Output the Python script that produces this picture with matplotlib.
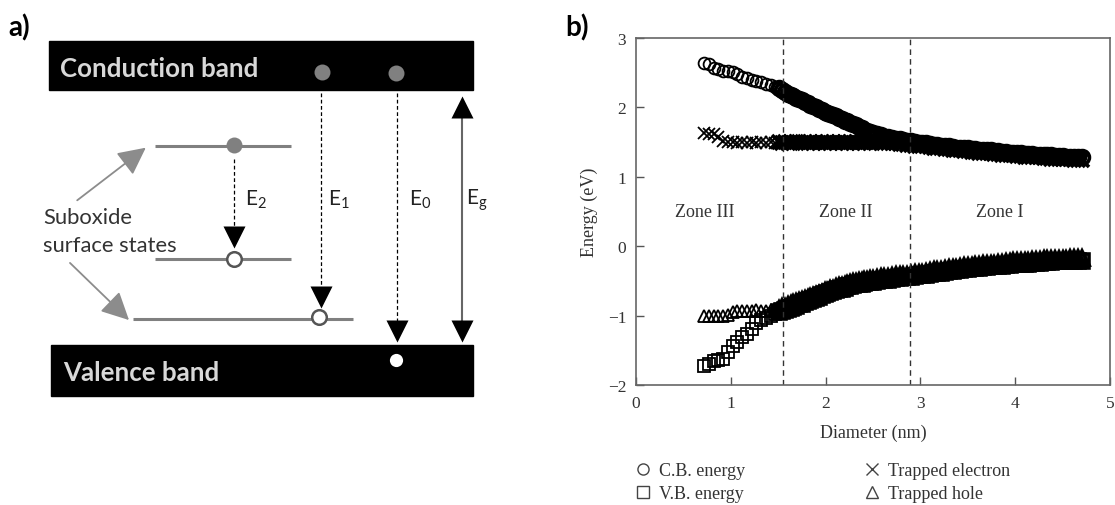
import matplotlib
matplotlib.use('Agg')
import matplotlib.pyplot as plt
from matplotlib.patches import Rectangle, FancyArrowPatch
from matplotlib.lines import Line2D

plt.rcParams['mathtext.fontset'] = 'custom'
plt.rcParams['mathtext.rm'] = 'Lato'
plt.rcParams['mathtext.default'] = 'regular'

# b) band energies vs. nanocrystal diameter
diameter = [
    0.72, 0.77, 0.82, 0.87, 0.92, 0.97, 1.02, 1.07, 1.12, 1.17, 1.22, 1.27, 1.32, 1.37, 1.42, 1.47,
    1.51, 1.54, 1.57, 1.60, 1.63, 1.66, 1.69, 1.72, 1.75, 1.78, 1.81, 1.84, 1.87, 1.90, 1.93, 1.96, 1.99,
    2.02, 2.05, 2.08, 2.11, 2.14, 2.17, 2.20, 2.23, 2.26, 2.29, 2.32, 2.35, 2.38, 2.41, 2.44, 2.47, 2.50,
    2.54, 2.58, 2.62, 2.66, 2.70, 2.74, 2.78, 2.82, 2.86, 2.90, 2.94, 2.98,
    3.02, 3.06, 3.10, 3.14, 3.18, 3.22, 3.26, 3.30, 3.34, 3.38, 3.42, 3.46, 3.50, 3.54, 3.58, 3.62, 3.66,
    3.70, 3.74, 3.78, 3.82, 3.86, 3.90, 3.94, 3.98,
    4.02, 4.06, 4.10, 4.14, 4.18, 4.22, 4.26, 4.30, 4.34, 4.38, 4.42, 4.46, 4.50, 4.54, 4.58, 4.62, 4.66, 4.70]
cb_energy = [
    2.64, 2.62, 2.57, 2.55, 2.52, 2.53, 2.51, 2.48, 2.44, 2.43, 2.40, 2.38, 2.36, 2.34, 2.32, 2.30,
    2.28, 2.25, 2.22, 2.20, 2.18, 2.16, 2.14, 2.12, 2.10, 2.08, 2.06, 2.04, 2.02, 2.00, 1.98, 1.96, 1.94,
    1.92, 1.91, 1.89, 1.87, 1.85, 1.83, 1.81, 1.80, 1.78, 1.76, 1.74, 1.72, 1.70, 1.68, 1.66, 1.65, 1.63,
    1.61, 1.60, 1.58, 1.57, 1.56, 1.55, 1.54, 1.53, 1.52, 1.51, 1.50, 1.49,
    1.48, 1.48, 1.47, 1.46, 1.46, 1.45, 1.44, 1.44, 1.43, 1.42, 1.42, 1.41, 1.41, 1.40, 1.40, 1.39, 1.39,
    1.38, 1.38, 1.37, 1.37, 1.36, 1.36, 1.35, 1.35,
    1.34, 1.34, 1.33, 1.33, 1.33, 1.32, 1.32, 1.31, 1.31, 1.31, 1.30, 1.30, 1.30, 1.29, 1.29, 1.29, 1.28, 1.28]
trapped_electron = [
    1.63, 1.62, 1.61, 1.57, 1.52, 1.50, 1.50, 1.49, 1.50, 1.49, 1.50, 1.49, 1.50, 1.49, 1.50, 1.49,
    1.50, 1.49, 1.50, 1.49, 1.50, 1.49, 1.50, 1.50, 1.49, 1.50, 1.49, 1.50, 1.49, 1.50, 1.49, 1.50, 1.49,
    1.50, 1.49, 1.50, 1.49, 1.50, 1.49, 1.50, 1.49, 1.50, 1.49, 1.50, 1.49, 1.50, 1.49, 1.50, 1.49, 1.50,
    1.50, 1.49, 1.49, 1.49, 1.48, 1.48, 1.47, 1.47, 1.46, 1.46, 1.45, 1.45,
    1.44, 1.44, 1.43, 1.42, 1.42, 1.41, 1.40, 1.40, 1.39, 1.38, 1.38, 1.37, 1.37, 1.36, 1.36, 1.35, 1.35,
    1.34, 1.34, 1.33, 1.33, 1.32, 1.32, 1.31, 1.31,
    1.30, 1.30, 1.29, 1.29, 1.28, 1.28, 1.28, 1.27, 1.27, 1.26, 1.26, 1.26, 1.25, 1.25, 1.25, 1.24, 1.24, 1.24]
vb_energy = [
    -1.73, -1.70, -1.66, -1.64, -1.62, -1.52, -1.44, -1.38, -1.31, -1.26, -1.19, -1.10, -1.06, -1.03, -1.00, -0.97,
    -0.95, -0.93, -0.92, -0.90, -0.89, -0.87, -0.86, -0.84, -0.83, -0.81, -0.79, -0.78, -0.76, -0.74, -0.73, -0.71, -0.69,
    -0.68, -0.66, -0.65, -0.63, -0.62, -0.61, -0.60, -0.58, -0.57, -0.56, -0.55, -0.54, -0.54, -0.53, -0.52, -0.51, -0.51,
    -0.50, -0.49, -0.48, -0.48, -0.47, -0.46, -0.46, -0.45, -0.45, -0.44, -0.43, -0.42,
    -0.42, -0.41, -0.40, -0.39, -0.39, -0.38, -0.37, -0.36, -0.36, -0.35, -0.34, -0.33, -0.33, -0.32, -0.31, -0.31, -0.30,
    -0.30, -0.29, -0.29, -0.28, -0.28, -0.27, -0.27, -0.26,
    -0.26, -0.25, -0.25, -0.25, -0.24, -0.24, -0.24, -0.23, -0.23, -0.23, -0.22, -0.22, -0.22, -0.22, -0.21, -0.21, -0.21, -0.21]
trapped_hole = [
    -1.01, -1.01, -1.01, -1.01, -1.01, -0.99, -0.95, -0.93, -0.93, -0.94, -0.93, -0.92, -0.94, -0.93, -0.92, -0.91,
    -0.90, -0.88, -0.87, -0.85, -0.84, -0.82, -0.81, -0.79, -0.78, -0.76, -0.75, -0.73, -0.72, -0.70, -0.69, -0.67, -0.65,
    -0.64, -0.62, -0.61, -0.59, -0.58, -0.57, -0.56, -0.54, -0.53, -0.52, -0.51, -0.50, -0.50, -0.49, -0.48, -0.47, -0.47,
    -0.46, -0.45, -0.44, -0.44, -0.43, -0.42, -0.42, -0.41, -0.41, -0.40, -0.39, -0.38,
    -0.38, -0.37, -0.36, -0.35, -0.35, -0.34, -0.33, -0.32, -0.32, -0.31, -0.30, -0.29, -0.29, -0.28, -0.27, -0.27, -0.26,
    -0.26, -0.25, -0.25, -0.24, -0.24, -0.23, -0.23, -0.22,
    -0.22, -0.21, -0.21, -0.21, -0.20, -0.20, -0.20, -0.19, -0.19, -0.19, -0.18, -0.18, -0.18, -0.18, -0.17, -0.17, -0.17, -0.17]
zone_edges = [1.548, 2.887]
zone_names = ['Zone III', 'Zone II', 'Zone I']
zone_centres = [0.73, 2.21, 3.84]

# a) band diagram, laid out in pixels of the left half
cb_box = (49, 42, 424, 49)      # x, y, width, height
vb_box = (51, 346, 422, 51)
levels = [(155, 291, 147), (155, 291, 260), (133, 353, 320)]   # x0, x1, y
cb_electrons = [(322, 73), (396, 74)]
transitions = [  # x, start y, tip y, label, label x
    (234, 160, 248, r'E$_2$', 245),
    (321, 94, 308, r'E$_1$', 328),
    (397, 94, 342, r'E$_0$', 409),
]
gap_arrow = (462, 97, 342)

sans = 'Lato'
serif = 'Liberation Serif'
grey = '#808080'

fig = plt.figure(figsize=(11.15, 5.06), dpi=100)

ax_a = fig.add_axes([0, 0, 0.5, 1])
ax_a.set_xlim(0, 557.5)
ax_a.set_ylim(506, 0)
ax_a.axis('off')

for (x, y, w, h) in [cb_box, vb_box]:
    ax_a.add_patch(Rectangle((x, y), w, h, color='black', zorder=1))
ax_a.text(60, 69, 'Conduction band', family=sans, weight='bold', fontsize=18.6,
          color='#d8d8d8', va='center')
ax_a.text(63, 373, 'Valence band', family=sans, weight='bold', fontsize=18.6,
          color='#d8d8d8', va='center')

for x0, x1, y in levels:
    ax_a.plot([x0, x1], [y, y], color=grey, lw=2.2, solid_capstyle='butt', zorder=2)

ex, ey = zip(*cb_electrons)
ax_a.plot(ex, ey, 'o', ms=11.5, color=grey, mec='none', zorder=3)
ax_a.plot(234, 146, 'o', ms=11.5, color=grey, mec='none', zorder=3)
ax_a.plot([234, 319], [260, 318], 'o', ms=10.5, mfc='white', mec='#555555', mew=1.8, zorder=4)
ax_a.plot(396, 361, 'o', ms=9.5, color='white', mec='none', zorder=3)

for x, y0, y1, label, lx in transitions:
    ax_a.plot([x, x], [y0, y1 - 10], color='black', lw=0.9, ls=(0, (3, 2)), zorder=2)
    ax_a.plot(x, y1 - 10.5, 'v', ms=15.5, color='black', mec='none', zorder=5)
    ax_a.text(lx, 200, label, family=sans, fontsize=15, color='#222222', va='center')

gx, gy0, gy1 = gap_arrow
ax_a.plot([gx, gx], [gy0 + 10, gy1 - 10], color='#666666', lw=1.5, zorder=2)
ax_a.plot(gx, gy0 + 10.5, '^', ms=15.5, color='black', mec='none', zorder=5)
ax_a.plot(gx, gy1 - 10.5, 'v', ms=15.5, color='black', mec='none', zorder=5)
ax_a.text(466, 200, r'E$_g$', family=sans, fontsize=15, color='#222222', va='center')

ax_a.text(43, 218, 'Suboxide', family=sans, fontsize=15.8, color='#333333', va='center')
ax_a.text(43, 246, 'surface states', family=sans, fontsize=15.8, color='#333333', va='center')
for start, end in [((75, 203), (148, 147)), ((68, 262), (131, 323))]:
    ax_a.add_patch(FancyArrowPatch(start, end, arrowstyle='-|>,head_length=1.0,head_width=0.5',
                                   mutation_scale=17, color='#8c8c8c', lw=1.3, zorder=2))

fig.text(8 / 1115, 1 - 28 / 506, 'a)', family=sans, weight='bold', fontsize=20, va='center')
fig.text(565 / 1115, 1 - 28 / 506, 'b)', family=sans, weight='bold', fontsize=20, va='center')

# b) scatter panel; the small-diameter points sit apart, the rest pile up into a solid band
ax = fig.add_axes([636 / 1115, 1 - 386 / 506, 474 / 1115, 347 / 506])
n_sparse = 16
series = [(cb_energy, 'o'), (trapped_electron, 'x'), (vb_energy, 's'), (trapped_hole, '^')]
for values, m in series:
    ax.plot(diameter[:n_sparse + 1], values[:n_sparse + 1], ls='none', marker=m, ms=8.5,
            mew=1.3, color='black', mfc='none')
    ax.plot(diameter[n_sparse:], values[n_sparse:], ls='none', marker=m, ms=10,
            mew=2.6, color='black', mfc='none')

for xe in zone_edges:
    ax.axvline(xe, color='#333333', lw=1.0, ls=(0, (4, 3)))
for name, xc in zip(zone_names, zone_centres):
    ax.text(xc, 0.5, name, family=serif, fontsize=13, color='#333333', ha='center', va='center')

ax.set_xlim(0, 5)
ax.set_ylim(-2, 3)
ax.set_xticks(range(0, 6))
ax.set_yticks(range(-2, 4))
ax.set_yticklabels(['\u22122', '\u22121', '0', '1', '2', '3'])
ax.tick_params(direction='in', length=6, width=1.0, color='#555555', labelcolor='#333333',
               labelsize=12.5, pad=7)
for lab in ax.get_xticklabels() + ax.get_yticklabels():
    lab.set_family(serif)
for s in ax.spines.values():
    s.set_color('#666666')
    s.set_linewidth(1.2)
ax.set_xlabel('Diameter (nm)', family=serif, fontsize=13, color='#333333', labelpad=9)
ax.set_ylabel('Energy (eV)', family=serif, fontsize=13, color='#333333', labelpad=7)

def handle(m):
    return Line2D([], [], ls='none', marker=m, ms=8, mew=1.0, color='#444444', mfc='none')

leg_kw = dict(frameon=False, loc='upper left', prop={'family': serif, 'size': 13},
              handletextpad=0.3, labelspacing=0.35, handlelength=1.2, labelcolor='#333333',
              borderaxespad=0, borderpad=0)
fig.legend([handle('o'), handle('s')], ['C.B. energy', 'V.B. energy'],
           bbox_to_anchor=(632 / 1115, 1 - 463 / 506), **leg_kw)
fig.legend([handle('x'), handle('^')], ['Trapped electron', 'Trapped hole'],
           bbox_to_anchor=(861 / 1115, 1 - 463 / 506), **leg_kw)

fig.savefig('out.png', dpi=100)
